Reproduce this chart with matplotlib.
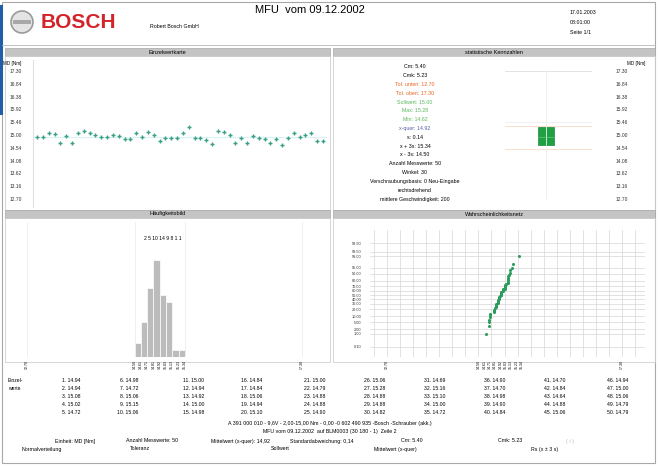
import numpy as np
import matplotlib
matplotlib.use('Agg')
import matplotlib.pyplot as plt
from matplotlib.patches import Rectangle, Circle
from statistics import NormalDist

plt.rcParams['font.family'] = ['Liberation Sans', 'DejaVu Sans']

W, H = 661, 466

# MD [Nm], Einzelwerte 1..50
values = [14.94, 14.94, 15.08, 15.02, 14.72, 14.98, 14.72, 15.06, 15.15, 15.06,
          15.00, 14.94, 14.92, 15.00, 14.98, 14.84, 14.84, 15.06, 14.94, 15.10,
          15.00, 14.79, 14.88, 14.88, 14.90, 15.06, 15.28, 14.88, 14.88, 14.82,
          14.69, 15.16, 15.10, 15.00, 14.72, 14.90, 14.70, 14.98, 14.90, 14.84,
          14.70, 14.84, 14.64, 14.88, 15.06, 14.94, 15.00, 15.06, 14.79, 14.79]

y_ticks = [17.30, 16.84, 16.38, 15.92, 15.46, 15.00, 14.54, 14.08, 13.62, 13.16, 12.70]
tol_low, tol_high = 12.70, 17.30
x_minus_3s, x_plus_3s = 14.50, 15.34
mean_val = 14.92

hist_edges = [14.50, 14.605, 14.71, 14.815, 14.92, 15.025, 15.13, 15.235, 15.34]
hist_counts = [2, 5, 10, 14, 9, 8, 1, 1]

prob_ticks = [0.1, 1, 2, 5, 10, 20, 30, 40, 50, 60, 70, 80, 90, 95, 99, 99.5, 99.9]

stats_lines = [
    ('Cm: 5.40', 'black'),
    ('Cmk: 5.23', 'black'),
    ('Tol. unten: 12.70', '#e8641e'),
    ('Tol. oben: 17.30', '#e8641e'),
    ('Sollwert: 15.00', '#58b85a'),
    ('Max: 15.28', '#58b85a'),
    ('Min: 14.62', '#58b85a'),
    ('x-quer: 14.92', '#5b5fa8'),
    ('s: 0.14', 'black'),
    ('x + 3s: 15.34', 'black'),
    ('x - 3s: 14.50', 'black'),
    ('Anzahl Messwerte: 50', 'black'),
    ('Winkel: 30', 'black'),
    ('Verschraubungsbasis: 0 Neu-Eingabe', 'black'),
    ('rechtsdrehend', 'black'),
    ('mittlere Geschwindigkeit: 200', 'black'),
]

fig = plt.figure(figsize=(W / 100, H / 100), dpi=100)
bg = fig.add_axes([0, 0, 1, 1])
bg.set_xlim(0, W)
bg.set_ylim(H, 0)
bg.axis('off')


def px_axes(x0, y0, x1, y1):
    ax = fig.add_axes([x0 / W, 1 - y1 / H, (x1 - x0) / W, (y1 - y0) / H])
    ax.patch.set_alpha(0)
    for s in ax.spines.values():
        s.set_visible(False)
    return ax


def txt(x, y, s, size=3.8, ha='center', **kw):
    bg.text(x, y, s, fontsize=size, ha=ha, va='center', **kw)


# page frame, header
bg.add_patch(Rectangle((2, 2), 653, 461, fill=False, ec='#a8a8a8', lw=0.8))
bg.add_patch(Rectangle((0, 5), 3, 110, fc='#1f5fa8', ec='none'))
bg.plot([2, 655], [45, 45], color='#b8b8b8', lw=0.6)
bg.add_patch(Circle((22, 22), 11, fc='#e4e4e4', ec='#9a9a9a', lw=1.2))
bg.add_patch(Rectangle((13, 20), 18, 4, fc='#a8a8a8', ec='none'))
txt(41, 23, 'BOSCH', size=15, ha='left', color='#d5232b', fontweight='bold')
txt(150, 27, 'Robert Bosch GmbH', size=3.8, ha='left')
txt(310, 10, 'MFU  vom 09.12.2002', size=8)
txt(570, 12, '17.01.2003', size=3.8, ha='left')
txt(570, 22, '08:01:00', size=3.8, ha='left')
txt(570, 32, 'Seite 1/1', size=3.8, ha='left')

# section headers and panels
for x0, x1, y0, title in [(5, 330, 48, 'Einzelwertkarte'),
                          (333, 655, 48, 'statistische Kennzahlen'),
                          (5, 330, 210, 'Häufigkeitsbild'),
                          (333, 655, 210, 'Wahrscheinlichkeitsnetz')]:
    bg.add_patch(Rectangle((x0, y0), x1 - x0, 8, fc='#c4c4c4', ec='#a8a8a8', lw=0.5))
    txt((x0 + x1) / 2, y0 + 4, title, size=4)
    bg.add_patch(Rectangle((x0, y0 + 8), x1 - x0, 154 if y0 < 100 else 144,
                           fill=False, ec='#cfcfcf', lw=0.6))

# Einzelwertkarte
ax1 = px_axes(33, 71, 327, 199)
ax1.set_ylim(tol_low, tol_high)
ax1.set_xlim(0.315, 50.685)
idx = np.arange(1, len(values) + 1)
ax1.axhline(mean_val, color='#d6f4f4', lw=0.8)
ax1.plot(idx, values, ls='none', marker='+', ms=2.6, mew=1.0, color='#3a9f86', clip_on=False)
ax1.spines['left'].set_visible(True)
ax1.spines['left'].set_color('#e0e0e0')
ax1.spines['left'].set_bounds(tol_low - 0.3, tol_high + 0.4)
ax1.set_xticks([])
ax1.set_yticks(y_ticks)
ax1.set_yticklabels(['%.2f' % v for v in y_ticks], fontsize=3.5, color='#333333')
ax1.tick_params(axis='y', length=0, pad=8)
txt(12, 64, 'MD [Nm]', size=3.3)

# statistische Kennzahlen
for i, (s, c) in enumerate(stats_lines):
    txt(415, 67 + i * 8.8, s, size=3.8, color=c)

axb = px_axes(505, 71, 600, 199)
axb.set_ylim(tol_low, tol_high)
axb.set_xlim(0, 1)
for v, c in [(tol_low, '#dddddd'), (tol_high, '#dddddd'),
             (x_minus_3s, '#f6dcc0'), (x_plus_3s, '#f6dcc0'), (15.46, '#eeeeee')]:
    axb.plot([0, 0.9], [v, v], color=c, lw=0.6)
axb.plot([0.43, 0.43], [tol_low, tol_high], color='#eeeeee', lw=0.6)
vmin, vmax = min(values), max(values)
axb.add_patch(Rectangle((0.347, vmin), 0.168, vmax - vmin, fc='#1fa045', ec='#178a38', lw=0.5))
axb.plot([0.347, 0.515], [mean_val, mean_val], color='#7ccf90', lw=0.4)
axb.set_xticks([])
axb.yaxis.tick_right()
axb.set_yticks(y_ticks)
axb.set_yticklabels(['%.2f' % v for v in y_ticks], fontsize=3.5, color='#333333')
axb.tick_params(axis='y', length=0, pad=11)
txt(636, 63, 'MD [Nm]', size=3.3)

# Häufigkeitsbild
axh = px_axes(20, 222, 325, 357)
axh.set_xlim(12.583, 17.685)
axh.set_ylim(0, 19.5)
for v in [tol_low, x_minus_3s, x_plus_3s, tol_high]:
    axh.axvline(v, color='#ececec', lw=0.6)
axh.bar(hist_edges[:-1], hist_counts, width=np.diff(hist_edges), align='edge',
        color='#bcbcbc', ec='white', lw=0.5)
axh.axhline(0, color='#c8c8c8', lw=0.6)
axh.set_yticks([])
tick_pos = [tol_low] + hist_edges + [tol_high]
axh.set_xticks(tick_pos)
axh.set_xticklabels(['%.2f' % v for v in tick_pos], fontsize=2.6, rotation=90)
axh.tick_params(axis='x', length=0, pad=2)
txt(163, 239, ' '.join(str(c) for c in hist_counts), size=3.6)

# Wahrscheinlichkeitsnetz
axp = px_axes(370, 230, 645, 357)
axp.set_xlim(12.367, 17.750)
axp.set_ylim(-3.71, 3.89)
nd = NormalDist()
for gx in np.arange(12.45, 17.75, 0.255):
    axp.axvline(gx, color='#d6d6d6', lw=0.5)
z_ticks = [nd.inv_cdf(p / 100) for p in prob_ticks]
for z in z_ticks:
    axp.axhline(z, color='#d6d6d6', lw=0.5)
srt = np.sort(values)
n = len(srt)
z_pts = [nd.inv_cdf((i + 0.5) / n) for i in range(n)]
axp.plot(srt, z_pts, ls='none', marker='o', ms=2.2, mew=0, color='#2a9d5c')
axp.set_yticks(z_ticks)
axp.set_yticklabels(['%.2f' % p for p in prob_ticks], fontsize=2.8, color='#333333')
axp.tick_params(axis='y', length=0, pad=6)
axp.set_xticks(tick_pos)
axp.set_xticklabels(['%.2f' % v for v in tick_pos], fontsize=2.6, rotation=90)
axp.tick_params(axis='x', length=0, pad=2)

# Einzelwerte table
txt(8, 381, 'Einzel-', size=3.6, ha='left')
txt(8, 389, 'werte', size=3.6, ha='left')
col_right = [80, 138, 204, 262, 325, 385, 445, 505, 565, 628]
for k, v in enumerate(values):
    col, row = divmod(k, 5)
    txt(col_right[col], 381 + row * 7.8, '%d. %.2f' % (k + 1, v), size=3.7, ha='right')

# footer
txt(330, 424, 'A 391 000 010 - 9,6V - 2,00-15,00 Nm - 0,00 -0 602 490 935 -Bosch -Schrauber (akk.)', size=3.8)
txt(330, 432, 'MFU vom 09.12.2002  auf BLM0003 (30 180 - 1)  Zeile 2', size=3.8)
for x, s in [(75, 'Einheit: MD [Nm]'), (152, 'Anzahl Messwerte: 50'),
             (240, 'Mittelwert (x-quer): 14,92'), (322, 'Standardabweichung: 0,14'),
             (412, 'Cm: 5.40'), (510, 'Cmk: 5.23')]:
    txt(x, 441, s, size=3.8)
txt(570, 441, '( i )', size=3.8, color='#bbbbbb')
for x, s in [(42, 'Normalverteilung'), (140, 'Toleranz'), (280, 'Sollwert'),
             (395, 'Mittelwert (x-quer)'), (545, 'Rs (x ± 3 s)')]:
    txt(x, 449, s, size=3.8)

fig.savefig('out.png', dpi=100)
